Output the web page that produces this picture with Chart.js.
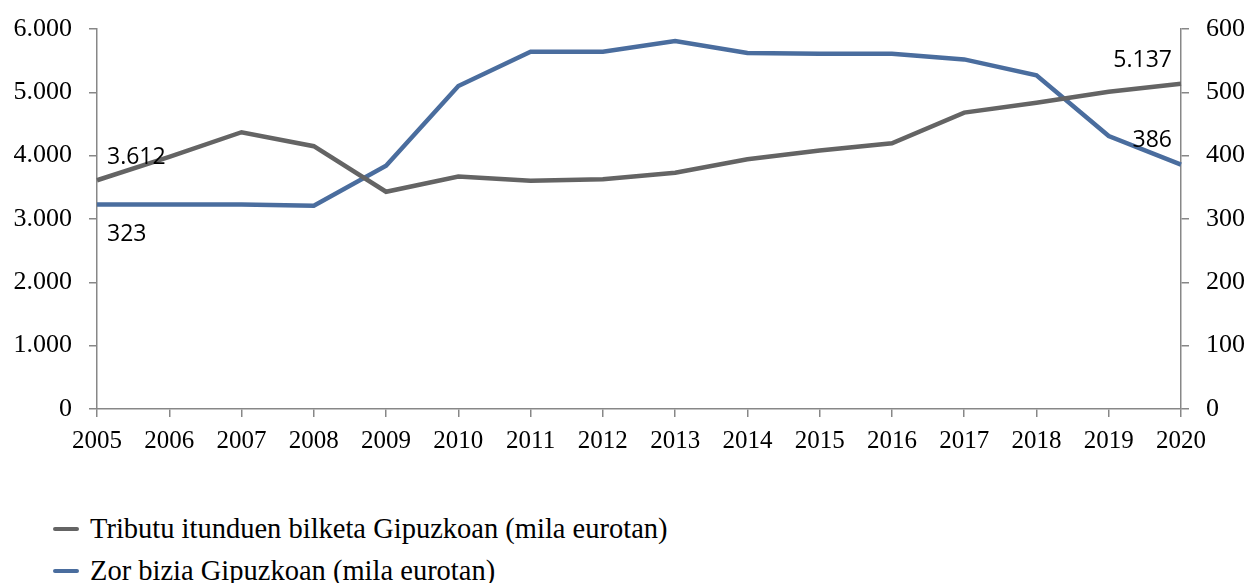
<!DOCTYPE html>
<html>
<head>
<meta charset="utf-8">
<script src="https://cdn.jsdelivr.net/npm/chart.js@4.4.1/dist/chart.umd.min.js"></script>
<style>
    html, body { margin: 0; padding: 0; background: #fff; }
    #wrap { position: relative; width: 1249px; height: 583px; }
    #chartBox { position: absolute; left: 0; top: 0; width: 1249px; height: 480px; }
    #legend { position: absolute; left: 53px; top: 508px; font: 28.5px "Liberation Serif", serif; color: #000; }
    #legend .item { display: flex; align-items: center; height: 42px; }
    #legend .mark { width: 26px; height: 4px; border-radius: 2px; margin-right: 11px; }
</style>
</head>
<body>
<div id="wrap">
    <div id="chartBox"><canvas id="lineChart"></canvas></div>
    <div id="legend"></div>
</div>
<script>
const years = ["2005", "2006", "2007", "2008", "2009", "2010", "2011", "2012",
               "2013", "2014", "2015", "2016", "2017", "2018", "2019", "2020"];
const tributuak = [3612, 3980, 4370, 4150, 3430, 3670, 3605, 3627,
                   3731, 3943, 4080, 4195, 4680, 4837, 5010, 5137];
const zorBizia = [323, 323, 323, 321, 384, 510, 564, 564,
                  581, 562, 561, 561, 552, 527, 431, 386];
const seriesNames = ["Tributu itunduen bilketa Gipuzkoan (mila eurotan)",
                     "Zor bizia Gipuzkoan (mila eurotan)"];
const leftTicks = [0, 1000, 2000, 3000, 4000, 5000, 6000];
const rightTicks = [0, 100, 200, 300, 400, 500, 600];

const grayColor = "#646464";
const blueColor = "#4A6D9E";
const axisColor = "#878787";

const fmt = (v) => String(v).replace(/\B(?=(\d{3})+(?!\d))/g, ".");

// labels at the first and last point of each line
const labelOffsets = [
    { first: [10, -23, "left"], last: [-9, -23, "right"] },
    { first: [10, 30, "left"], last: [-9, -24, "right"] },
];

const endLabels = {
    id: "endLabels",
    afterDatasetsDraw(chart) {
        const ctx = chart.ctx;
        ctx.save();
        ctx.font = '23px "Open Sans", sans-serif';
        ctx.fillStyle = "#000";
        ctx.textBaseline = "middle";
        chart.data.datasets.forEach((ds, i) => {
            const pts = chart.getDatasetMeta(i).data;
            const off = labelOffsets[i];
            const ends = [[0, off.first], [pts.length - 1, off.last]];
            ends.forEach(([idx, o]) => {
                const p = pts[idx];
                ctx.textAlign = o[2];
                ctx.fillText(fmt(ds.data[idx]), p.x + o[0], p.y + o[1]);
            });
        });
        ctx.restore();
    },
};

const yFont = { family: '"Liberation Serif", serif', size: 26 };
const xFont = { family: '"Liberation Serif", serif', size: 25 };

// fixed axis sizes so the plot area sits where the reference has it
const fitY = (w) => (s) => { s.width = w; s.paddingTop = 0; s.paddingBottom = 0; };
const fitX = (s) => { s.height = 71; s.paddingLeft = 0; s.paddingRight = 0; };

const config = {
    type: "line",
    data: {
        labels: years,
        datasets: [
            {
                label: seriesNames[0],
                data: tributuak,
                borderColor: grayColor,
                backgroundColor: grayColor,
                borderWidth: 4.5,
                pointRadius: 0,
                tension: 0,
                yAxisID: "y",
            },
            {
                label: seriesNames[1],
                data: zorBizia,
                borderColor: blueColor,
                backgroundColor: blueColor,
                borderWidth: 4.5,
                pointRadius: 0,
                tension: 0,
                yAxisID: "y1",
            },
        ],
    },
    options: {
        responsive: true,
        maintainAspectRatio: false,
        animation: false,
        layout: { padding: { top: 29, left: 0, right: 0, bottom: 0 } },
        plugins: {
            legend: { display: false },
            tooltip: { enabled: false },
        },
        scales: {
            x: {
                offset: false,
                grid: { drawOnChartArea: false, drawTicks: true, tickLength: 8, color: axisColor, lineWidth: 1.5 },
                border: { color: axisColor, width: 1.5 },
                ticks: { font: xFont, color: "#000", padding: 9, maxRotation: 0, autoSkip: false },
                afterFit: fitX,
            },
            y: {
                position: "left",
                min: 0,
                max: 6000,
                afterBuildTicks: (s) => { s.ticks = leftTicks.map((v) => ({ value: v })); },
                grid: { drawOnChartArea: false, drawTicks: true, tickLength: 8, color: axisColor, lineWidth: 1.5 },
                border: { color: axisColor, width: 1.5 },
                ticks: { font: yFont, color: "#000", padding: 17, callback: (v) => fmt(v) },
                afterFit: fitY(97),
            },
            y1: {
                position: "right",
                min: 0,
                max: 600,
                afterBuildTicks: (s) => { s.ticks = rightTicks.map((v) => ({ value: v })); },
                grid: { drawOnChartArea: false, drawTicks: true, tickLength: 8, color: axisColor, lineWidth: 1.5 },
                border: { color: axisColor, width: 1.5 },
                ticks: { font: yFont, color: "#000", padding: 17, callback: (v) => fmt(v) },
                afterFit: fitY(68),
            },
        },
    },
    plugins: [endLabels],
};

const chart = new Chart(document.getElementById("lineChart"), config);

// legend stacked under the chart
const legend = document.getElementById("legend");
chart.data.datasets.forEach((ds) => {
    const item = document.createElement("div");
    item.className = "item";
    item.innerHTML = '<span class="mark" style="background:' + ds.borderColor + '"></span><span>' + ds.label + "</span>";
    legend.appendChild(item);
});
</script>
</body>
</html>
